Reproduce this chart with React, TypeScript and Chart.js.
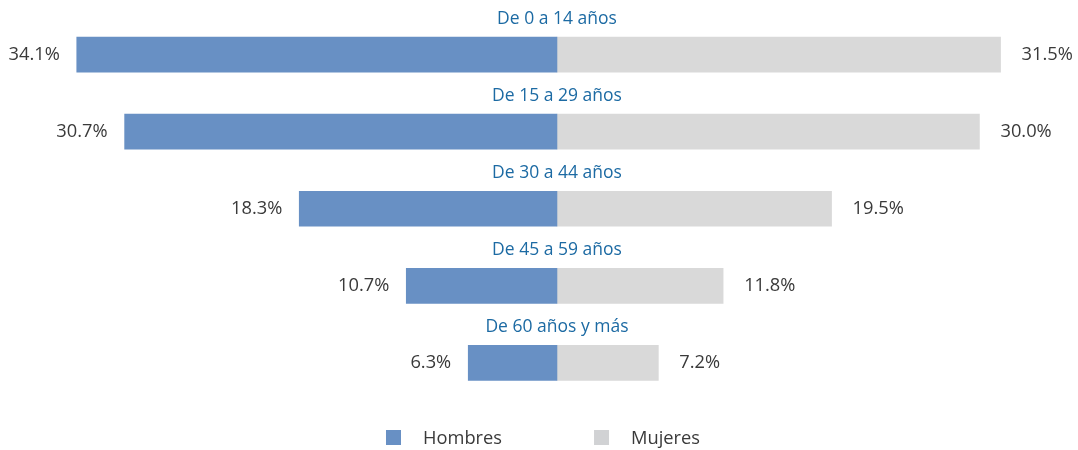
import React, { useEffect, useRef } from "react";
import { Chart, registerables } from "chart.js";

Chart.register(...registerables);

const categories = ["De 0 a 14 años", "De 15 a 29 años", "De 30 a 44 años", "De 45 a 59 años", "De 60 años y más"];
const hombres = [34.1, 30.7, 18.3, 10.7, 6.3];
const mujeres = [31.5, 30.0, 19.5, 11.8, 7.2];
const seriesNames = ["Hombres", "Mujeres"];

const BLUE = "#6890C4";
const GRAY = "#D9D9D9";
const LEGEND_GRAY = "#D1D2D4";
const LABEL_BLUE = "#1C6AA3";
const TEXT = "#3A3A3A";
const FONT = "'Open Sans', 'Noto Sans', sans-serif";

const fmt = (v: number) => Math.abs(v).toFixed(1) + "%";

const labelPlugin = {
  id: "pyramidLabels",
  afterDatasetsDraw(chart: any) {
    const ctx = chart.ctx;
    const xs = chart.scales.x;
    const ys = chart.scales.y;
    const zeroX = xs.getPixelForValue(0);
    ctx.save();
    ctx.textBaseline = "middle";
    categories.forEach((cat, i) => {
      const yc = ys.getPixelForValue(i);
      ctx.font = `17.5px ${FONT}`;
      ctx.fillStyle = LABEL_BLUE;
      ctx.textAlign = "center";
      ctx.fillText(cat, zeroX, yc - 35.5);
    });
    ctx.font = `18.3px ${FONT}`;
    ctx.fillStyle = TEXT;
    const m0 = chart.getDatasetMeta(0);
    const m1 = chart.getDatasetMeta(1);
    m0.data.forEach((el: any, i: number) => {
      ctx.textAlign = "right";
      ctx.fillText(fmt(hombres[i]), el.x - 17, el.y);
    });
    m1.data.forEach((el: any, i: number) => {
      ctx.textAlign = "left";
      ctx.fillText(fmt(mujeres[i]), el.x + 21, el.y);
    });
    ctx.restore();
  },
  afterDraw(chart: any) {
    const ctx = chart.ctx;
    ctx.save();
    ctx.font = `18.3px ${FONT}`;
    const box = 15;
    const gap = 22;
    const spacing = 92;
    const colors = [BLUE, LEGEND_GRAY];
    const widths = seriesNames.map((n) => box + gap + ctx.measureText(n).width);
    const total = widths.reduce((a, b) => a + b, 0) + spacing * (seriesNames.length - 1);
    let x = chart.width / 2 + 4 - total / 2;
    const yc = chart.height - 12.5;
    ctx.textBaseline = "middle";
    ctx.textAlign = "left";
    seriesNames.forEach((n, i) => {
      ctx.fillStyle = colors[i];
      ctx.fillRect(x, yc - box / 2, box, box);
      ctx.fillStyle = TEXT;
      ctx.fillText(n, x + box + gap, yc + 1);
      x += widths[i] + spacing;
    });
    ctx.restore();
  },
};

export default function App() {
  const ref = useRef<HTMLCanvasElement | null>(null);
  useEffect(() => {
    if (!ref.current) return;
    const chart = new Chart(ref.current, {
      type: "bar",
      data: {
        labels: categories,
        datasets: [
          { label: seriesNames[0], data: hombres.map((v) => -v), backgroundColor: BLUE, barThickness: 35, borderWidth: 0 },
          { label: seriesNames[1], data: mujeres, backgroundColor: GRAY, barThickness: 35, borderWidth: 0 },
        ],
      },
      options: {
        indexAxis: "y",
        responsive: true,
        maintainAspectRatio: false,
        animation: false,
        layout: { padding: { top: 16, bottom: 48.5, left: 0, right: 0 } },
        plugins: { legend: { display: false }, tooltip: { enabled: false } },
        scales: {
          x: { stacked: true, min: -39.55, max: 37.0, display: false },
          y: { stacked: true, display: false },
        },
      },
      plugins: [labelPlugin],
    });
    return () => chart.destroy();
  }, []);
  return (
    <div style={{ position: "absolute", left: 0, top: 0, width: 1078, height: 450 }}>
      <canvas ref={ref} />
    </div>
  );
}
